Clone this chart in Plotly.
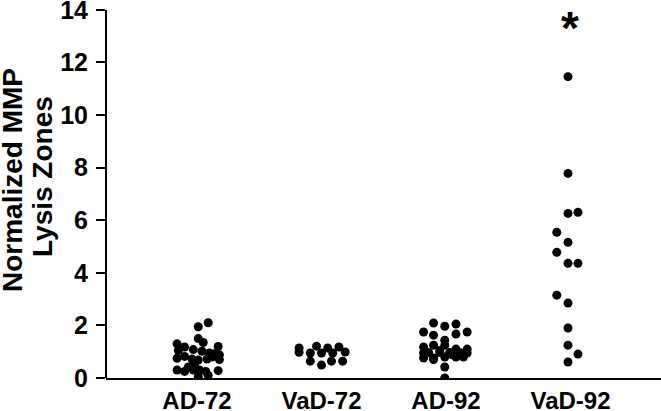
import plotly.graph_objects as go

categories = ["AD-72", "VaD-72", "AD-92", "VaD-92"]

# values (normalized MMP lysis zones) and horizontal jitter offsets (category units)
ad72_values = [2.10, 1.95, 1.50, 1.30, 1.35, 1.20, 1.18, 1.05, 1.08, 1.02, 0.95, 0.92, 0.88,
               0.75, 0.82, 0.72, 0.68, 0.72, 0.70, 0.80, 0.50, 0.42, 0.30, 0.25, 0.30, 0.30,
               0.25, 0.28, 0.05, 0.10]
ad72_jitter = [0.09, 0.01, 0.01, -0.16, 0.05, 0.17, -0.10, -0.15, -0.03, 0.04, 0.10, 0.14, 0.18,
               -0.16, -0.10, -0.04, 0.01, 0.08, 0.18, 0.12, -0.02, -0.07, -0.16, -0.10, -0.03, 0.02,
               0.07, 0.17, 0.01, 0.09]

vad72_values = [1.14, 0.98, 1.21, 1.14, 1.18, 0.95, 0.95, 0.95, 0.99, 0.64, 0.64, 0.64, 0.49]
vad72_jitter = [-0.18, -0.18, -0.04, 0.05, 0.14, -0.09, 0.00, 0.09, 0.19, -0.09, 0.08, 0.17, 0.00]

ad92_values = [2.09, 1.97, 2.05, 1.75, 1.63, 1.67, 1.75, 1.44, 1.18, 1.25, 1.25, 1.10, 1.10,
               0.95, 0.97, 0.97, 0.97, 0.97, 0.95, 0.76, 0.76, 0.80, 0.80, 0.80, 0.70, 0.42,
               0.00, 1.05, 0.88]
ad92_jitter = [-0.10, -0.01, 0.08, -0.18, -0.10, 0.08, 0.17, -0.01, -0.18, -0.10, -0.01, 0.08, 0.17,
               -0.18, -0.14, -0.05, 0.03, 0.11, 0.17, -0.18, -0.10, -0.01, 0.08, 0.14, -0.10, -0.01,
               -0.01, -0.05, 0.05]

vad92_values = [11.46, 7.78, 6.26, 6.30, 5.54, 5.16, 4.78, 4.36, 4.36, 3.15, 2.85, 1.90, 1.25, 0.91, 0.61]
vad92_jitter = [-0.02, -0.02, -0.02, 0.06, -0.11, -0.02, -0.11, -0.02, 0.06, -0.11, -0.02, -0.02,
                -0.02, 0.06, -0.02]

y_ticks = [0, 2, 4, 6, 8, 10, 12, 14]
y_max = 14
significance_marker = "*"
significance_y = 13.3

groups = [(ad72_values, ad72_jitter), (vad72_values, vad72_jitter),
          (ad92_values, ad92_jitter), (vad92_values, vad92_jitter)]

fig = go.Figure()
for i, (vals, jit) in enumerate(groups):
    fig.add_trace(go.Scatter(
        x=[i + j for j in jit], y=vals, mode="markers",
        marker=dict(color="black", size=9, line=dict(width=0)),
        showlegend=False, name=categories[i]))

FONT = "Liberation Sans, Arial, sans-serif"

fig.update_layout(
    template="none",
    width=661, height=411,
    margin=dict(l=106, r=0, t=2, b=33),
    plot_bgcolor="white", paper_bgcolor="white",
    font=dict(family=FONT, color="black"),
    showlegend=False,
    xaxis=dict(
        range=[-0.731, 3.727], tickmode="array", tickvals=list(range(4)), ticktext=categories,
        showgrid=False, zeroline=False, showline=True, linecolor="black", linewidth=2,
        ticks="", tickfont=dict(size=24, weight="bold", family=FONT, color="black"),
        ticklabelstandoff=0, ticklabeloverflow="allow", automargin=False, fixedrange=True),
    yaxis=dict(
        range=[0, 14.3], tickmode="array", tickvals=y_ticks,
        showgrid=False, zeroline=False, showline=False,
        ticks="outside", ticklen=9, tickwidth=2, tickcolor="black",
        tickfont=dict(size=25, weight="bold", family=FONT, color="black"),
        ticklabelstandoff=3, ticklabeloverflow="allow", automargin=False, fixedrange=True),
)

# y axis line spanning 0..14 only, like the reference
fig.add_shape(type="line", xref="x domain", yref="y", x0=0, x1=0, y0=0, y1=y_max,
              line=dict(color="black", width=2))

fig.add_annotation(x=3, y=significance_y, xref="x", yref="y", text=significance_marker,
                   showarrow=False, font=dict(size=46, weight="bold", family=FONT, color="black"),
                   xanchor="center", yanchor="middle")

fig.add_annotation(x=(12 - 106) / 555, y=(378 - 180) / 376, xref="paper", yref="paper",
                   text="Normalized MMP", textangle=-90, showarrow=False,
                   font=dict(size=28, weight="bold", family=FONT, color="black"),
                   xanchor="center", yanchor="middle")
fig.add_annotation(x=(42 - 106) / 555, y=(378 - 177) / 376, xref="paper", yref="paper",
                   text="Lysis Zones", textangle=-90, showarrow=False,
                   font=dict(size=28, weight="bold", family=FONT, color="black"),
                   xanchor="center", yanchor="middle")

fig.write_html("out.html", config={"displayModeBar": False},
               post_script="document.body.style.margin='0';")
